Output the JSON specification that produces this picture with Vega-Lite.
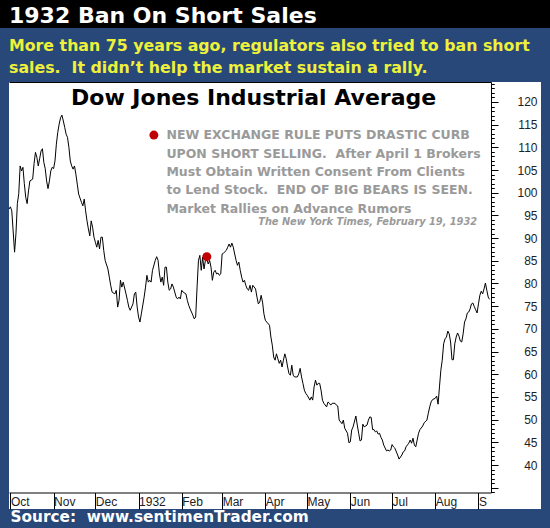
{
  "$schema": "https://vega.github.io/schema/vega-lite/v6.json",
  "background": "#274879",
  "padding": {"left": 0, "top": 0, "right": 0, "bottom": 10},
  "config": {"view": {"stroke": null}, "axis": {"grid": false}},
  "datasets": {
    "dow": [
      {"date": "1931-09-30", "dow": 96.4}, {"date": "1931-10-01", "dow": 96.9}, {"date": "1931-10-02", "dow": 96.0},
      {"date": "1931-10-04", "dow": 86.9}, {"date": "1931-10-05", "dow": 91.0}, {"date": "1931-10-06", "dow": 97.6},
      {"date": "1931-10-07", "dow": 99.8}, {"date": "1931-10-08", "dow": 105.9}, {"date": "1931-10-09", "dow": 104.8},
      {"date": "1931-10-10", "dow": 105.6}, {"date": "1931-10-11", "dow": 102.0}, {"date": "1931-10-12", "dow": 99.0},
      {"date": "1931-10-13", "dow": 97.6}, {"date": "1931-10-14", "dow": 100.4}, {"date": "1931-10-15", "dow": 102.6},
      {"date": "1931-10-17", "dow": 103.0}, {"date": "1931-10-18", "dow": 106.4}, {"date": "1931-10-19", "dow": 108.9},
      {"date": "1931-10-20", "dow": 107.8}, {"date": "1931-10-21", "dow": 105.9}, {"date": "1931-10-22", "dow": 107.5},
      {"date": "1931-10-23", "dow": 109.2}, {"date": "1931-10-24", "dow": 109.7}, {"date": "1931-10-25", "dow": 106.7},
      {"date": "1931-10-26", "dow": 105.3}, {"date": "1931-10-27", "dow": 102.6}, {"date": "1931-10-28", "dow": 100.9},
      {"date": "1931-10-29", "dow": 102.6}, {"date": "1931-10-30", "dow": 104.8}, {"date": "1931-10-31", "dow": 105.6},
      {"date": "1931-11-01", "dow": 105.3}, {"date": "1931-11-02", "dow": 107.0}, {"date": "1931-11-03", "dow": 110.7},
      {"date": "1931-11-04", "dow": 113.3}, {"date": "1931-11-05", "dow": 115.1}, {"date": "1931-11-06", "dow": 116.5},
      {"date": "1931-11-07", "dow": 117.1}, {"date": "1931-11-08", "dow": 115.8}, {"date": "1931-11-09", "dow": 114.4},
      {"date": "1931-11-10", "dow": 112.9}, {"date": "1931-11-11", "dow": 112.2}, {"date": "1931-11-12", "dow": 110.0},
      {"date": "1931-11-13", "dow": 107.0}, {"date": "1931-11-14", "dow": 105.9}, {"date": "1931-11-15", "dow": 105.2},
      {"date": "1931-11-16", "dow": 105.9}, {"date": "1931-11-17", "dow": 104.1}, {"date": "1931-11-18", "dow": 101.9},
      {"date": "1931-11-19", "dow": 99.7}, {"date": "1931-11-21", "dow": 97.9}, {"date": "1931-11-22", "dow": 97.1},
      {"date": "1931-11-23", "dow": 98.6}, {"date": "1931-11-24", "dow": 96.0}, {"date": "1931-11-25", "dow": 93.8},
      {"date": "1931-11-26", "dow": 92.0}, {"date": "1931-11-27", "dow": 90.5}, {"date": "1931-11-28", "dow": 93.8},
      {"date": "1931-11-29", "dow": 92.4}, {"date": "1931-11-30", "dow": 90.2}, {"date": "1931-12-01", "dow": 89.1},
      {"date": "1931-12-02", "dow": 88.0}, {"date": "1931-12-03", "dow": 89.5}, {"date": "1931-12-04", "dow": 87.6},
      {"date": "1931-12-05", "dow": 90.2}, {"date": "1931-12-06", "dow": 90.2}, {"date": "1931-12-07", "dow": 87.3},
      {"date": "1931-12-08", "dow": 85.1}, {"date": "1931-12-10", "dow": 83.2}, {"date": "1931-12-11", "dow": 81.4},
      {"date": "1931-12-12", "dow": 79.6}, {"date": "1931-12-13", "dow": 78.1}, {"date": "1931-12-15", "dow": 77.7},
      {"date": "1931-12-16", "dow": 78.5}, {"date": "1931-12-17", "dow": 74.8}, {"date": "1931-12-18", "dow": 76.3},
      {"date": "1931-12-19", "dow": 80.7}, {"date": "1931-12-20", "dow": 79.2}, {"date": "1931-12-21", "dow": 80.3},
      {"date": "1931-12-23", "dow": 77.7}, {"date": "1931-12-24", "dow": 76.3}, {"date": "1931-12-25", "dow": 74.8},
      {"date": "1931-12-26", "dow": 74.1}, {"date": "1931-12-28", "dow": 75.5}, {"date": "1931-12-29", "dow": 77.7},
      {"date": "1931-12-30", "dow": 78.1}, {"date": "1931-12-31", "dow": 74.8}, {"date": "1932-01-01", "dow": 72.6},
      {"date": "1932-01-02", "dow": 71.5}, {"date": "1932-01-03", "dow": 73.3}, {"date": "1932-01-05", "dow": 77.0},
      {"date": "1932-01-06", "dow": 79.2}, {"date": "1932-01-07", "dow": 81.8}, {"date": "1932-01-08", "dow": 80.3},
      {"date": "1932-01-09", "dow": 80.7}, {"date": "1932-01-10", "dow": 80.3}, {"date": "1932-01-11", "dow": 82.9},
      {"date": "1932-01-13", "dow": 85.1}, {"date": "1932-01-14", "dow": 85.9}, {"date": "1932-01-15", "dow": 85.1},
      {"date": "1932-01-16", "dow": 82.1}, {"date": "1932-01-17", "dow": 80.3}, {"date": "1932-01-18", "dow": 81.4},
      {"date": "1932-01-19", "dow": 79.6}, {"date": "1932-01-20", "dow": 83.6}, {"date": "1932-01-21", "dow": 83.6},
      {"date": "1932-01-22", "dow": 80.3}, {"date": "1932-01-23", "dow": 78.5}, {"date": "1932-01-24", "dow": 78.8},
      {"date": "1932-01-25", "dow": 79.9}, {"date": "1932-01-26", "dow": 79.2}, {"date": "1932-01-28", "dow": 77.0},
      {"date": "1932-01-29", "dow": 76.6}, {"date": "1932-01-30", "dow": 77.0}, {"date": "1932-01-31", "dow": 76.6},
      {"date": "1932-02-01", "dow": 78.5}, {"date": "1932-02-02", "dow": 78.1}, {"date": "1932-02-04", "dow": 77.7},
      {"date": "1932-02-05", "dow": 76.3}, {"date": "1932-02-06", "dow": 75.2}, {"date": "1932-02-07", "dow": 74.4},
      {"date": "1932-02-08", "dow": 73.7}, {"date": "1932-02-09", "dow": 73.0}, {"date": "1932-02-10", "dow": 72.2},
      {"date": "1932-02-11", "dow": 72.6}, {"date": "1932-02-12", "dow": 79.2}, {"date": "1932-02-13", "dow": 85.1},
      {"date": "1932-02-14", "dow": 86.2}, {"date": "1932-02-15", "dow": 82.9}, {"date": "1932-02-16", "dow": 85.8},
      {"date": "1932-02-17", "dow": 83.2}, {"date": "1932-02-18", "dow": 85.1}, {"date": "1932-02-19", "dow": 85.4},
      {"date": "1932-02-20", "dow": 84.3}, {"date": "1932-02-21", "dow": 85.1}, {"date": "1932-02-22", "dow": 83.6},
      {"date": "1932-02-23", "dow": 80.7}, {"date": "1932-02-24", "dow": 82.5}, {"date": "1932-02-25", "dow": 82.9},
      {"date": "1932-02-26", "dow": 82.1}, {"date": "1932-02-27", "dow": 82.3}, {"date": "1932-02-28", "dow": 81.8},
      {"date": "1932-02-29", "dow": 82.1}, {"date": "1932-03-01", "dow": 86.5}, {"date": "1932-03-02", "dow": 86.7},
      {"date": "1932-03-04", "dow": 87.3}, {"date": "1932-03-05", "dow": 88.0}, {"date": "1932-03-06", "dow": 88.7},
      {"date": "1932-03-07", "dow": 88.0}, {"date": "1932-03-08", "dow": 88.9}, {"date": "1932-03-09", "dow": 88.0},
      {"date": "1932-03-10", "dow": 86.5}, {"date": "1932-03-11", "dow": 85.1}, {"date": "1932-03-12", "dow": 84.0},
      {"date": "1932-03-13", "dow": 84.7}, {"date": "1932-03-14", "dow": 82.9}, {"date": "1932-03-15", "dow": 81.4},
      {"date": "1932-03-16", "dow": 80.3}, {"date": "1932-03-17", "dow": 80.7}, {"date": "1932-03-18", "dow": 79.6},
      {"date": "1932-03-19", "dow": 78.8}, {"date": "1932-03-20", "dow": 78.5}, {"date": "1932-03-21", "dow": 79.6},
      {"date": "1932-03-22", "dow": 78.1}, {"date": "1932-03-23", "dow": 79.6}, {"date": "1932-03-25", "dow": 78.8},
      {"date": "1932-03-26", "dow": 77.0}, {"date": "1932-03-27", "dow": 75.5}, {"date": "1932-03-28", "dow": 75.9},
      {"date": "1932-03-29", "dow": 77.4}, {"date": "1932-03-30", "dow": 75.9}, {"date": "1932-03-31", "dow": 73.3},
      {"date": "1932-04-01", "dow": 71.9}, {"date": "1932-04-02", "dow": 71.5}, {"date": "1932-04-04", "dow": 70.8},
      {"date": "1932-04-05", "dow": 68.2}, {"date": "1932-04-06", "dow": 66.4}, {"date": "1932-04-07", "dow": 63.8},
      {"date": "1932-04-08", "dow": 63.1}, {"date": "1932-04-09", "dow": 64.5}, {"date": "1932-04-10", "dow": 63.4},
      {"date": "1932-04-11", "dow": 62.4}, {"date": "1932-04-12", "dow": 63.1}, {"date": "1932-04-13", "dow": 61.6},
      {"date": "1932-04-14", "dow": 63.1}, {"date": "1932-04-15", "dow": 64.5}, {"date": "1932-04-16", "dow": 63.4},
      {"date": "1932-04-17", "dow": 61.6}, {"date": "1932-04-18", "dow": 60.1}, {"date": "1932-04-19", "dow": 59.8},
      {"date": "1932-04-20", "dow": 62.0}, {"date": "1932-04-21", "dow": 59.8}, {"date": "1932-04-22", "dow": 59.4},
      {"date": "1932-04-24", "dow": 59.4}, {"date": "1932-04-25", "dow": 60.1}, {"date": "1932-04-26", "dow": 61.3},
      {"date": "1932-04-27", "dow": 59.4}, {"date": "1932-04-28", "dow": 58.0}, {"date": "1932-04-29", "dow": 56.5},
      {"date": "1932-04-30", "dow": 55.8}, {"date": "1932-05-01", "dow": 55.4}, {"date": "1932-05-03", "dow": 54.3},
      {"date": "1932-05-04", "dow": 55.0}, {"date": "1932-05-05", "dow": 54.3}, {"date": "1932-05-06", "dow": 57.2},
      {"date": "1932-05-07", "dow": 58.7}, {"date": "1932-05-08", "dow": 57.6}, {"date": "1932-05-09", "dow": 58.0},
      {"date": "1932-05-10", "dow": 58.0}, {"date": "1932-05-11", "dow": 56.5}, {"date": "1932-05-12", "dow": 54.3},
      {"date": "1932-05-13", "dow": 53.6}, {"date": "1932-05-15", "dow": 52.8}, {"date": "1932-05-16", "dow": 53.9},
      {"date": "1932-05-17", "dow": 53.6}, {"date": "1932-05-18", "dow": 53.2}, {"date": "1932-05-19", "dow": 53.6},
      {"date": "1932-05-21", "dow": 53.6}, {"date": "1932-05-22", "dow": 53.2}, {"date": "1932-05-23", "dow": 53.0},
      {"date": "1932-05-24", "dow": 49.9}, {"date": "1932-05-26", "dow": 49.1}, {"date": "1932-05-27", "dow": 49.9},
      {"date": "1932-05-28", "dow": 48.1}, {"date": "1932-05-30", "dow": 47.0}, {"date": "1932-05-31", "dow": 44.9},
      {"date": "1932-06-01", "dow": 45.1}, {"date": "1932-06-02", "dow": 47.7}, {"date": "1932-06-03", "dow": 48.4},
      {"date": "1932-06-05", "dow": 50.8}, {"date": "1932-06-06", "dow": 48.8}, {"date": "1932-06-07", "dow": 47.0},
      {"date": "1932-06-08", "dow": 45.3}, {"date": "1932-06-09", "dow": 45.5}, {"date": "1932-06-10", "dow": 49.0},
      {"date": "1932-06-11", "dow": 48.4}, {"date": "1932-06-13", "dow": 48.8}, {"date": "1932-06-14", "dow": 49.9},
      {"date": "1932-06-15", "dow": 50.6}, {"date": "1932-06-16", "dow": 50.5}, {"date": "1932-06-17", "dow": 47.8},
      {"date": "1932-06-18", "dow": 47.8}, {"date": "1932-06-19", "dow": 47.3}, {"date": "1932-06-20", "dow": 47.5},
      {"date": "1932-06-21", "dow": 46.8}, {"date": "1932-06-22", "dow": 47.0}, {"date": "1932-06-23", "dow": 46.1},
      {"date": "1932-06-24", "dow": 45.5}, {"date": "1932-06-25", "dow": 44.4}, {"date": "1932-06-27", "dow": 43.1},
      {"date": "1932-06-28", "dow": 43.3}, {"date": "1932-06-29", "dow": 43.1}, {"date": "1932-06-30", "dow": 43.3},
      {"date": "1932-07-01", "dow": 44.5}, {"date": "1932-07-02", "dow": 44.0}, {"date": "1932-07-03", "dow": 43.7},
      {"date": "1932-07-05", "dow": 42.2}, {"date": "1932-07-06", "dow": 41.3}, {"date": "1932-07-08", "dow": 42.2},
      {"date": "1932-07-09", "dow": 42.9}, {"date": "1932-07-10", "dow": 43.1}, {"date": "1932-07-11", "dow": 44.0},
      {"date": "1932-07-13", "dow": 44.8}, {"date": "1932-07-14", "dow": 45.5}, {"date": "1932-07-15", "dow": 44.8},
      {"date": "1932-07-16", "dow": 45.9}, {"date": "1932-07-17", "dow": 44.4}, {"date": "1932-07-18", "dow": 44.0},
      {"date": "1932-07-19", "dow": 45.5}, {"date": "1932-07-20", "dow": 47.0}, {"date": "1932-07-21", "dow": 47.8},
      {"date": "1932-07-23", "dow": 48.6}, {"date": "1932-07-24", "dow": 49.3}, {"date": "1932-07-26", "dow": 49.9},
      {"date": "1932-07-27", "dow": 51.4}, {"date": "1932-07-28", "dow": 52.8}, {"date": "1932-07-29", "dow": 53.9},
      {"date": "1932-07-30", "dow": 54.4}, {"date": "1932-08-01", "dow": 54.7}, {"date": "1932-08-02", "dow": 55.2},
      {"date": "1932-08-03", "dow": 53.4}, {"date": "1932-08-04", "dow": 57.2}, {"date": "1932-08-05", "dow": 60.9},
      {"date": "1932-08-06", "dow": 63.1}, {"date": "1932-08-07", "dow": 66.7}, {"date": "1932-08-08", "dow": 67.8},
      {"date": "1932-08-09", "dow": 68.2}, {"date": "1932-08-10", "dow": 69.5}, {"date": "1932-08-11", "dow": 68.9},
      {"date": "1932-08-12", "dow": 67.1}, {"date": "1932-08-13", "dow": 63.2}, {"date": "1932-08-14", "dow": 63.2},
      {"date": "1932-08-15", "dow": 66.7}, {"date": "1932-08-16", "dow": 68.2}, {"date": "1932-08-17", "dow": 69.1},
      {"date": "1932-08-18", "dow": 68.4}, {"date": "1932-08-19", "dow": 67.3}, {"date": "1932-08-20", "dow": 67.1},
      {"date": "1932-08-21", "dow": 68.9}, {"date": "1932-08-22", "dow": 71.5}, {"date": "1932-08-23", "dow": 72.2},
      {"date": "1932-08-24", "dow": 73.5}, {"date": "1932-08-25", "dow": 73.7}, {"date": "1932-08-26", "dow": 74.4},
      {"date": "1932-08-27", "dow": 75.5}, {"date": "1932-08-28", "dow": 75.7}, {"date": "1932-08-29", "dow": 74.9},
      {"date": "1932-08-30", "dow": 74.2}, {"date": "1932-08-31", "dow": 73.5}, {"date": "1932-09-01", "dow": 75.5},
      {"date": "1932-09-02", "dow": 77.4}, {"date": "1932-09-03", "dow": 78.3}, {"date": "1932-09-04", "dow": 77.7},
      {"date": "1932-09-05", "dow": 78.8}, {"date": "1932-09-06", "dow": 80.1}, {"date": "1932-09-07", "dow": 78.5},
      {"date": "1932-09-08", "dow": 77.0}, {"date": "1932-09-09", "dow": 76.5}
    ],
    "events": [
      {"date": "1932-02-19", "dow": 85.9}
    ]
  },
  "vconcat": [
    {
      "width": 550,
      "height": 28,
      "view": {"fill": "#000000", "stroke": null},
      "title": {
        "text": "1932 Ban On Short Sales",
        "subtitle": ["More than 75 years ago, regulators also tried to ban short", "sales. \u00a0It didn’t help the market sustain a rally."],
        "anchor": "start",
        "frame": "group",
        "dx": 9,
        "offset": -77,
        "font": "DejaVu Sans",
        "fontSize": 22,
        "fontWeight": "bold",
        "color": "#ffffff",
        "subtitleFont": "DejaVu Sans",
        "subtitleFontSize": 15.8,
        "subtitleFontWeight": "bold",
        "subtitleColor": "#eef03a",
        "subtitleLineHeight": 22.6,
        "subtitlePadding": 11
      },
      "data": {"values": []},
      "mark": "rule",
      "encoding": {}
    },
    {
      "width": 532,
      "height": 427,
      "view": {"fill": "#ffffff", "stroke": null},
      "title": {
        "text": "Dow Jones Industrial Average",
        "anchor": "start",
        "frame": "group",
        "dx": 62,
        "offset": -28,
        "font": "DejaVu Sans",
        "fontSize": 22,
        "fontWeight": "bold",
        "color": "#000000"
      },
      "resolve": {"axis": {"x": "independent", "y": "independent"}},
      "layer": [
        {
          "data": {"name": "dow"},
          "mark": {"type": "line", "color": "#000000", "strokeWidth": 1},
          "encoding": {
            "x": {
              "field": "date",
              "type": "temporal",
              "scale": {
                "type": "utc",
                "domain": [{"year": 1931, "month": 9, "date": 30, "utc": true}, {"year": 1932, "month": 9, "date": 10, "utc": true}],
                "range": [0, 482]
              },
              "axis": {
                "orient": "bottom",
                "offset": -16.5,
                "values": [
                  {"year": 1931, "month": 10, "date": 1, "utc": true}, {"year": 1931, "month": 11, "date": 1, "utc": true},
                  {"year": 1931, "month": 12, "date": 1, "utc": true}, {"year": 1932, "month": 1, "date": 1, "utc": true},
                  {"year": 1932, "month": 2, "date": 1, "utc": true}, {"year": 1932, "month": 3, "date": 1, "utc": true},
                  {"year": 1932, "month": 4, "date": 1, "utc": true}, {"year": 1932, "month": 5, "date": 1, "utc": true},
                  {"year": 1932, "month": 6, "date": 1, "utc": true}, {"year": 1932, "month": 7, "date": 1, "utc": true},
                  {"year": 1932, "month": 8, "date": 1, "utc": true}, {"year": 1932, "month": 9, "date": 1, "utc": true}
                ],
                "labelExpr": "utcmonth(datum.value) == 0 ? '1932' : utcmonth(datum.value) == 8 ? 'S' : utcFormat(datum.value, '%b')",
                "labelAlign": "left",
                "labelBaseline": "top",
                "labelPadding": -13,
                "labelDx": 2,
                "labelFlush": false,
                "labelOverlap": false,
                "labelFont": "Liberation Sans",
                "labelFontSize": 12,
                "labelColor": "#222222",
                "tickSize": 16.5,
                "tickColor": "#000000",
                "domainColor": "#000000",
                "title": "Source: \u00a0www.sentimenTrader.com",
                "titleX": 1,
                "titleY": 28.8,
                "titleAlign": "left",
                "titleBaseline": "alphabetic",
                "titleFont": "DejaVu Sans",
                "titleFontSize": 15.3,
                "titleFontWeight": "bold",
                "titleColor": "#ffffff"
              }
            },
            "y": {
              "field": "dow",
              "type": "quantitative",
              "scale": {"domain": [33.94, 124.4], "range": [410.5, 0], "nice": false, "zero": false},
              "axis": {
                "orient": "right",
                "offset": -50,
                "values": [35, 40, 45, 50, 55, 60, 65, 70, 75, 80, 85, 90, 95, 100, 105, 110, 115, 120],
                "labelExpr": "datum.value < 40 ? '' : datum.label",
                "tickSize": 7,
                "labelAlign": "right",
                "labelBaseline": "middle",
                "labelPadding": 39,
                "labelFlush": false,
                "labelOverlap": false,
                "labelFont": "Liberation Sans",
                "labelFontSize": 12,
                "labelColor": "#222222",
                "tickColor": "#000000",
                "domainColor": "#000000",
                "title": null
              }
            }
          }
        },
        {
          "data": {"name": "events"},
          "mark": {"type": "point", "filled": true, "color": "#c00000", "opacity": 1, "size": 80},
          "encoding": {
            "x": {
              "field": "date",
              "type": "temporal",
              "scale": {
                "type": "utc",
                "domain": [{"year": 1931, "month": 9, "date": 30, "utc": true}, {"year": 1932, "month": 9, "date": 10, "utc": true}],
                "range": [0, 482]
              },
              "axis": {"orient": "top", "ticks": false, "labels": false, "domain": true, "domainColor": "#000000", "title": null}
            },
            "y": {
              "field": "dow",
              "type": "quantitative",
              "scale": {"domain": [33.94, 124.4], "range": [410.5, 0], "nice": false, "zero": false},
              "axis": {
                "orient": "right",
                "offset": -50,
                "values": [34, 35, 36, 37, 38, 39, 40, 41, 42, 43, 44, 45, 46, 47, 48, 49, 50, 51, 52, 53, 54, 55, 56, 57, 58, 59, 60, 61, 62, 63, 64, 65, 66, 67, 68, 69, 70, 71, 72, 73, 74, 75, 76, 77, 78, 79, 80, 81, 82, 83, 84, 85, 86, 87, 88, 89, 90, 91, 92, 93, 94, 95, 96, 97, 98, 99, 100, 101, 102, 103, 104, 105, 106, 107, 108, 109, 110, 111, 112, 113, 114, 115, 116, 117, 118, 119, 120, 121, 122, 123, 124],
                "tickSize": 3.3,
                "tickColor": "#000000",
                "labels": false,
                "domain": false,
                "title": null
              }
            }
          }
        },
        {
          "data": {"values": [{}]},
          "mark": {"type": "point", "filled": true, "color": "#c00000", "opacity": 1, "size": 80},
          "encoding": {
            "x": {"datum": {"year": 1932, "month": 1, "date": 12, "utc": true}, "type": "temporal", "axis": null},
            "y": {"datum": 112.7, "type": "quantitative", "axis": null}
          }
        },
        {
          "data": {"values": [{}]},
          "mark": {
            "type": "text",
            "align": "left",
            "baseline": "alphabetic",
            "font": "DejaVu Sans",
            "fontWeight": "bold",
            "fontSize": 12.5,
            "lineHeight": 18.3,
            "color": "#9a9a9a"
          },
          "encoding": {
            "x": {"datum": {"year": 1932, "month": 1, "date": 21, "utc": true}, "type": "temporal", "axis": null},
            "y": {"datum": 111.77, "type": "quantitative", "axis": null},
            "text": {"value": ["NEW EXCHANGE RULE PUTS DRASTIC CURB", "UPON SHORT SELLING. \u00a0After April 1 Brokers", "Must Obtain Written Consent From Clients", "to Lend Stock. \u00a0END OF BIG BEARS IS SEEN.", "Market Rallies on Advance Rumors"]}
          }
        },
        {
          "data": {"values": [{}]},
          "mark": {
            "type": "text",
            "align": "right",
            "baseline": "alphabetic",
            "font": "DejaVu Sans",
            "fontWeight": "bold",
            "fontStyle": "italic",
            "fontSize": 9.8,
            "color": "#9a9a9a"
          },
          "encoding": {
            "x": {"datum": {"year": 1932, "month": 8, "date": 31, "utc": true}, "type": "temporal", "axis": null},
            "y": {"datum": 92.78, "type": "quantitative", "axis": null},
            "text": {"value": "The New York Times, February 19, 1932"}
          }
        }
      ]
    }
  ],
  "spacing": 54,
  "bounds": "flush",
  "center": true
}
